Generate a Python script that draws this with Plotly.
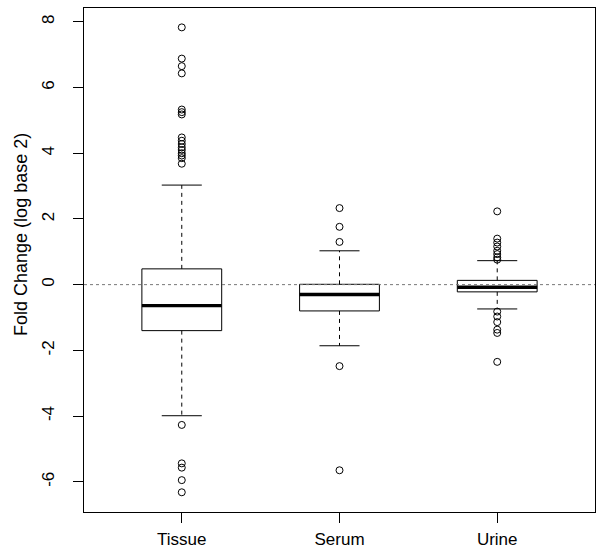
import plotly.graph_objects as go

categories = ["Tissue", "Serum", "Urine"]
lower_whisker = [-3.99, -1.86, -0.74]
q1 = [-1.40, -0.80, -0.22]
median = [-0.64, -0.30, -0.08]
q3 = [0.48, 0.01, 0.13]
upper_whisker = [3.03, 1.03, 0.73]

tissue_out = [7.83, 6.88, 6.65, 6.43, 5.33, 5.25, 5.18, 4.48, 4.38, 4.28, 4.18,
              4.10, 4.00, 3.93, 3.85, 3.68, -4.27, -5.44, -5.57, -5.95, -6.32]
serum_out = [2.33, 1.76, 1.30, -2.48, -5.65]
urine_out = [2.23, 1.40, 1.28, 1.16, 1.03, 0.93, 0.83, 0.76,
             -0.82, -0.97, -1.14, -1.37, -1.47, -2.35]
outliers = [tissue_out, serum_out, urine_out]

y_tick_vals = [-6, -4, -2, 0, 2, 4, 6, 8]
y_tick_labels = ["-6", "-4", "-2", "0", "2", "4", "6", "8"]

HALF = 0.253   # half box width (x units)
CAP = 0.127    # half cap width

box_x, box_y = [], []
med_x, med_y = [], []
wh_x, wh_y = [], []
cap_x, cap_y = [], []
out_x, out_y = [], []
for i in range(len(categories)):
    c = i + 1
    box_x += [c - HALF, c + HALF, c + HALF, c - HALF, c - HALF, None]
    box_y += [q1[i], q1[i], q3[i], q3[i], q1[i], None]
    med_x += [c - HALF, c + HALF, None]
    med_y += [median[i], median[i], None]
    wh_x += [c, c, None, c, c, None]
    wh_y += [q3[i], upper_whisker[i], None, q1[i], lower_whisker[i], None]
    cap_x += [c - CAP, c + CAP, None, c - CAP, c + CAP, None]
    cap_y += [upper_whisker[i], upper_whisker[i], None, lower_whisker[i], lower_whisker[i], None]
    out_x += [c] * len(outliers[i])
    out_y += outliers[i]

fig = go.Figure()
fig.add_trace(go.Scatter(x=wh_x, y=wh_y, mode="lines",
                         line=dict(color="black", width=1, dash="4px,4px"), hoverinfo="skip"))
fig.add_trace(go.Scatter(x=cap_x, y=cap_y, mode="lines",
                         line=dict(color="black", width=1), hoverinfo="skip"))
fig.add_trace(go.Scatter(x=box_x, y=box_y, mode="lines",
                         line=dict(color="black", width=1), hoverinfo="skip"))
fig.add_trace(go.Scatter(x=med_x, y=med_y, mode="lines",
                         line=dict(color="black", width=3.3), hoverinfo="skip"))
fig.add_trace(go.Scatter(x=out_x, y=out_y, mode="markers",
                         marker=dict(symbol="circle-open", size=7, color="black",
                                     line=dict(width=1, color="black"))))

fig.add_hline(y=0, line=dict(color="#777777", width=1, dash="dot"))

fig.add_annotation(text="Fold Change (log base 2)", xref="paper", yref="paper",
                   x=-0.123, y=0.55, xanchor="center", yanchor="middle",
                   textangle=-90, showarrow=False,
                   font=dict(size=18, color="black", family="Liberation Sans, Arial, sans-serif"))

fig.update_layout(
    width=600, height=553,
    margin=dict(l=84, r=4, t=8, b=34),
    plot_bgcolor="white", paper_bgcolor="white",
    showlegend=False,
    font=dict(family="Liberation Sans, Arial, sans-serif", size=17, color="black"),
)
fig.update_xaxes(range=[0.38, 3.62], tickvals=[1, 2, 3], ticktext=categories,
                 showline=True, mirror=True, linecolor="black", linewidth=1,
                 ticks="outside", ticklen=10, tickcolor="black",
                 ticklabelstandoff=2,
                 showgrid=False, zeroline=False)
fig.update_yaxes(range=[-6.92, 8.42], tickvals=y_tick_vals, ticktext=y_tick_labels,
                 tickangle=-90, ticklabelstandoff=12,
                 showline=True, mirror=True, linecolor="black", linewidth=1,
                 ticks="outside", ticklen=10, tickcolor="black",
                 showgrid=False, zeroline=False)

fig.write_html("out.html", config={"displayModeBar": False},
               post_script="document.body.style.margin='0';document.body.style.overflow='hidden';")
